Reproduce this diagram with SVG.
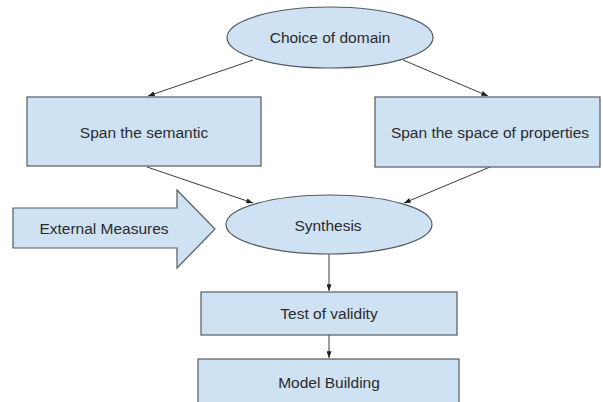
<svg xmlns="http://www.w3.org/2000/svg" width="603" height="402" viewBox="0 0 603 402">
  <style>
    .shape { fill: #cfe2f3; stroke: #555a60; stroke-width: 1.2; }
    .label { font-family: "Liberation Sans", Arial, sans-serif; font-size: 15.5px; fill: #2b2b2b; text-anchor: middle; }
    .edge { stroke: #3c3c3c; stroke-width: 1; fill: none; marker-end: url(#head); }
  </style>
  <defs>
    <marker id="head" viewBox="0 0 8 6" refX="8" refY="3" markerWidth="7" markerHeight="5" orient="auto" markerUnits="userSpaceOnUse">
      <path d="M0,0 L8,3 L0,6 Z" fill="#1f1f1f"/>
    </marker>
  </defs>
  <rect width="603" height="402" fill="#ffffff"/>

  <!-- connectors -->
  <g id="connectors">
    <line class="edge" x1="253" y1="60" x2="148" y2="96"/>
    <line class="edge" x1="403" y1="60" x2="488" y2="96"/>
    <line class="edge" x1="147" y1="167" x2="253" y2="203"/>
    <line class="edge" x1="490" y1="167" x2="404" y2="203"/>
    <line class="edge" x1="329" y1="254" x2="329" y2="291"/>
    <line class="edge" x1="329" y1="335" x2="329" y2="358"/>
  </g>

  <!-- nodes -->
  <g id="choice-of-domain">
    <ellipse class="shape" cx="330" cy="37.5" rx="103" ry="30.5"/>
    <text class="label" x="330" y="43">Choice of domain</text>
  </g>

  <g id="span-semantic">
    <rect class="shape" x="27" y="97" width="234" height="69"/>
    <text class="label" x="144" y="138">Span the semantic</text>
  </g>

  <g id="span-properties">
    <rect class="shape" x="375" y="97" width="225" height="70"/>
    <text class="label" x="490" y="138">Span the space of properties</text>
  </g>

  <g id="external-measures">
    <path class="shape" d="M13,208 L177,208 L177,190 L215,229 L177,268 L177,248 L13,248 Z"/>
    <text class="label" x="104" y="234">External Measures</text>
  </g>

  <g id="synthesis">
    <ellipse class="shape" cx="329" cy="224.5" rx="103" ry="29.5"/>
    <text class="label" x="328" y="231">Synthesis</text>
  </g>

  <g id="test-of-validity">
    <rect class="shape" x="201" y="292" width="256" height="43"/>
    <text class="label" x="329" y="319">Test of validity</text>
  </g>

  <g id="model-building">
    <rect class="shape" x="198" y="359" width="261" height="50"/>
    <text class="label" x="329" y="388">Model Building</text>
  </g>
</svg>
